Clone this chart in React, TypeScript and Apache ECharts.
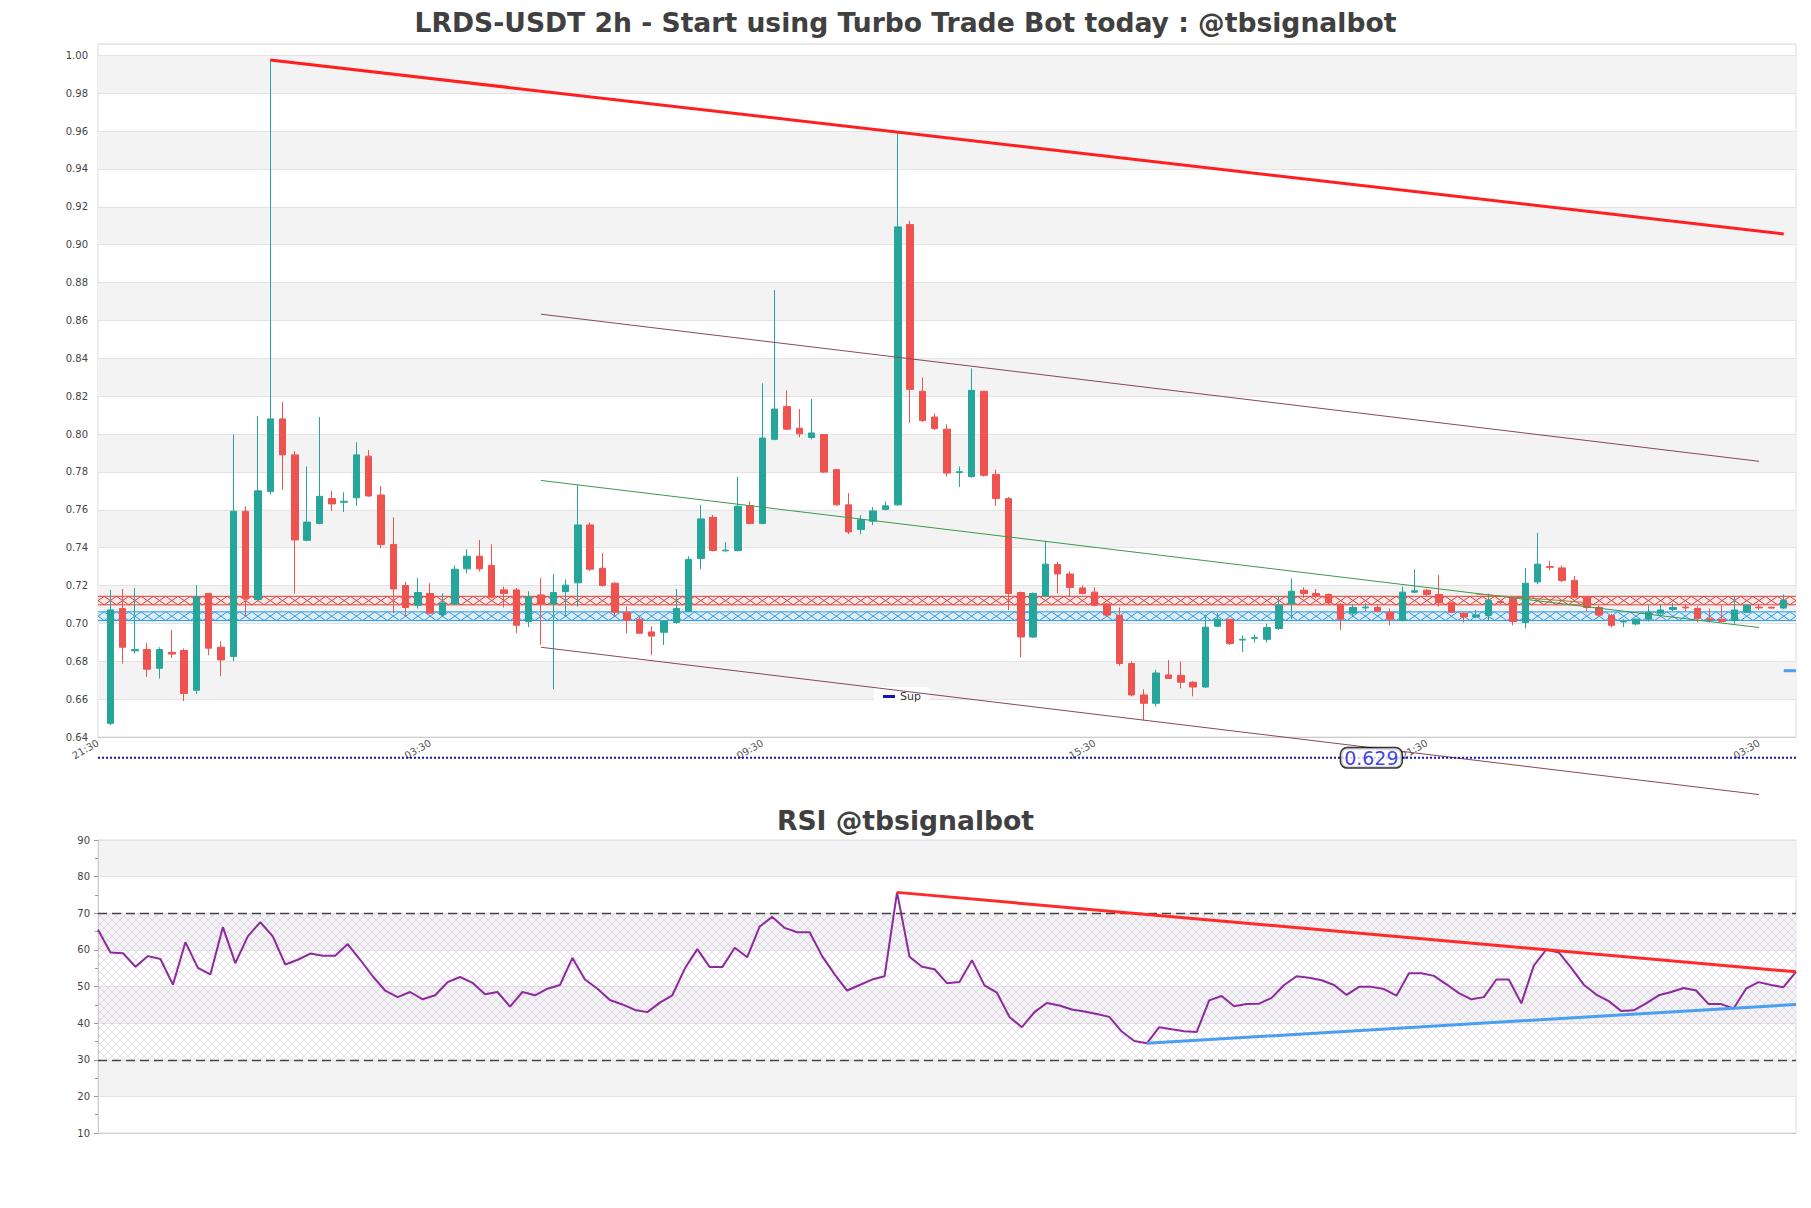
import React, { useEffect, useRef } from 'react';
import * as echarts from 'echarts';

// ---------- DATA ----------
const chartTitle = 'LRDS-USDT 2h - Start using Turbo Trade Bot today : @tbsignalbot';
const rsiTitle = 'RSI @tbsignalbot';

// time slots on the price axis (2h step), first slot 21:30; candles occupy slots 1..137
const slotCount = 139;
const firstSlotMinutes = 21 * 60 + 30;
const slotStepMinutes = 120;

const candleOpen = [
  0.6472, 0.7079, 0.6855, 0.6862, 0.6763, 0.6847, 0.6857, 0.6647, 0.7158, 0.6874,
  0.6825, 0.7592, 0.7126, 0.7696, 0.8080, 0.7890, 0.7439, 0.7528, 0.7659, 0.7640,
  0.7663, 0.7883, 0.7678, 0.7417, 0.7200, 0.7096, 0.7158, 0.7047, 0.7103, 0.7288,
  0.7355, 0.7306, 0.7177, 0.7177, 0.7010, 0.7150, 0.7103, 0.7168, 0.7214, 0.7520,
  0.7291, 0.7212, 0.7059, 0.7022, 0.6955, 0.6953, 0.7005, 0.7064, 0.7343, 0.7560,
  0.7383, 0.7385, 0.7621, 0.7528, 0.7972, 0.8145, 0.8031, 0.7982, 0.7997, 0.7812,
  0.7626, 0.7496, 0.7540, 0.7602, 0.7626, 0.9107, 0.8226, 0.8090, 0.8026, 0.7797,
  0.7775, 0.8226, 0.7787, 0.7659, 0.7163, 0.6928, 0.7145, 0.7311, 0.7261, 0.7187,
  0.7165, 0.7103, 0.7042, 0.6788, 0.6622, 0.6578, 0.6728, 0.6726, 0.6689, 0.6664,
  0.6985, 0.7022, 0.6912, 0.6921, 0.6916, 0.6973, 0.7103, 0.7175, 0.7158, 0.7153,
  0.7101, 0.7054, 0.7082, 0.7084, 0.7059, 0.7015, 0.7165, 0.7175, 0.7153, 0.7108,
  0.7054, 0.7034, 0.7042, 0.7115, 0.7133, 0.7005, 0.7219, 0.7300, 0.7293, 0.7227,
  0.7138, 0.7084, 0.7042, 0.7008, 0.6997, 0.7022, 0.7054, 0.7074, 0.7086, 0.7079,
  0.7024, 0.7022, 0.7015, 0.7059, 0.7086, 0.7085, 0.7081,
];
const candleClose = [
  0.7071, 0.6874, 0.6862, 0.6758, 0.6862, 0.6838, 0.6630, 0.7140, 0.6869, 0.6807,
  0.7592, 0.7133, 0.7700, 0.8080, 0.7890, 0.7441, 0.7535, 0.7671, 0.7631, 0.7645,
  0.7890, 0.7673, 0.7417, 0.7182, 0.7084, 0.7163, 0.7054, 0.7108, 0.7286, 0.7355,
  0.7288, 0.7138, 0.7158, 0.6990, 0.7140, 0.7103, 0.7163, 0.7202, 0.7520, 0.7286,
  0.7200, 0.7059, 0.7017, 0.6948, 0.6933, 0.7010, 0.7079, 0.7338, 0.7552, 0.7385,
  0.7387, 0.7619, 0.7528, 0.7979, 0.8132, 0.8026, 0.8001, 0.8006, 0.7799, 0.7626,
  0.7483, 0.7548, 0.7594, 0.7621, 0.9094, 0.8236, 0.8071, 0.8029, 0.7794, 0.7801,
  0.8231, 0.7782, 0.7659, 0.7158, 0.6928, 0.7158, 0.7313, 0.7261, 0.7190, 0.7158,
  0.7096, 0.7044, 0.6788, 0.6622, 0.6578, 0.6738, 0.6709, 0.6689, 0.6664, 0.6980,
  0.7022, 0.6894, 0.6916, 0.6926, 0.6978, 0.7096, 0.7170, 0.7158, 0.7145, 0.7108,
  0.7022, 0.7084, 0.7086, 0.7064, 0.7022, 0.7165, 0.7172, 0.7153, 0.7108, 0.7059,
  0.7034, 0.7044, 0.7121, 0.7110, 0.7010, 0.7212, 0.7313, 0.7296, 0.7227, 0.7138,
  0.7084, 0.7044, 0.6990, 0.7012, 0.7022, 0.7059, 0.7071, 0.7084, 0.7082, 0.7027,
  0.7020, 0.7010, 0.7071, 0.7096, 0.7082, 0.7081, 0.7121,
];
const candleLow = [
  0.6462, 0.6788, 0.6842, 0.6718, 0.6709, 0.6817, 0.6590, 0.6627, 0.6832, 0.6721,
  0.6800, 0.7039, 0.7121, 0.7681, 0.7705, 0.7158, 0.7434, 0.7523, 0.7594, 0.7589,
  0.7621, 0.7668, 0.7397, 0.7054, 0.7034, 0.7079, 0.7047, 0.7034, 0.7096, 0.7264,
  0.7274, 0.7133, 0.7084, 0.6948, 0.6980, 0.6886, 0.6652, 0.7034, 0.7089, 0.7276,
  0.7195, 0.7034, 0.6948, 0.6946, 0.6832, 0.6886, 0.6998, 0.7059, 0.7286, 0.7380,
  0.7380, 0.7380, 0.7523, 0.7523, 0.7967, 0.8021, 0.7982, 0.7972, 0.7794, 0.7621,
  0.7471, 0.7471, 0.7520, 0.7597, 0.7621, 0.8058, 0.8063, 0.8021, 0.7775, 0.7720,
  0.7770, 0.7775, 0.7621, 0.7071, 0.6820, 0.6923, 0.7138, 0.7158, 0.7145, 0.7153,
  0.7089, 0.7039, 0.6776, 0.6615, 0.6487, 0.6561, 0.6706, 0.6657, 0.6615, 0.6659,
  0.6980, 0.6886, 0.6849, 0.6899, 0.6899, 0.6965, 0.7022, 0.7133, 0.7133, 0.7096,
  0.6965, 0.7034, 0.7064, 0.7059, 0.6990, 0.7010, 0.7160, 0.7145, 0.7089, 0.7054,
  0.7005, 0.7027, 0.7015, 0.7100, 0.6990, 0.6973, 0.7207, 0.7281, 0.7219, 0.7133,
  0.7064, 0.7034, 0.6978, 0.6980, 0.6990, 0.7010, 0.7039, 0.7064, 0.7064, 0.7005,
  0.7005, 0.7005, 0.6998, 0.7054, 0.7071, 0.7079, 0.7076,
];
const candleHigh = [
  0.7177, 0.7182, 0.7187, 0.6896, 0.6874, 0.6965, 0.6867, 0.7202, 0.7160, 0.6906,
  0.7997, 0.7619, 0.8095, 0.9975, 0.8169, 0.7910, 0.7829, 0.8090, 0.7700, 0.7693,
  0.7957, 0.7915, 0.7725, 0.7560, 0.7219, 0.7239, 0.7212, 0.7158, 0.7306, 0.7392,
  0.7441, 0.7417, 0.7195, 0.7187, 0.7170, 0.7239, 0.7261, 0.7232, 0.7730, 0.7533,
  0.7372, 0.7219, 0.7089, 0.7034, 0.6985, 0.7015, 0.7182, 0.7355, 0.7626, 0.7572,
  0.7429, 0.7775, 0.7644, 0.8268, 0.8761, 0.8231, 0.8132, 0.8186, 0.8001, 0.7812,
  0.7688, 0.7572, 0.7614, 0.7644, 0.9600, 0.9127, 0.8298, 0.8108, 0.8051, 0.7829,
  0.8347, 0.8226, 0.7812, 0.7668, 0.7168, 0.7163, 0.7436, 0.7325, 0.7274, 0.7200,
  0.7190, 0.7108, 0.7084, 0.6800, 0.6652, 0.6755, 0.6807, 0.6798, 0.6696, 0.7047,
  0.7054, 0.7022, 0.6936, 0.6940, 0.6998, 0.7140, 0.7237, 0.7190, 0.7182, 0.7158,
  0.7108, 0.7103, 0.7108, 0.7096, 0.7079, 0.7195, 0.7286, 0.7182, 0.7256, 0.7113,
  0.7059, 0.7071, 0.7158, 0.7125, 0.7145, 0.7293, 0.7478, 0.7330, 0.7306, 0.7251,
  0.7145, 0.7096, 0.7051, 0.7022, 0.7027, 0.7096, 0.7103, 0.7108, 0.7103, 0.7089,
  0.7079, 0.7096, 0.7145, 0.7103, 0.7103, 0.7088, 0.7153,
];

const rsiValues = [
  65.5, 59.3, 59.1, 55.4, 58.3, 57.5, 50.5, 62.1, 55.1, 53.3,
  66.2, 56.4, 63.7, 67.6, 63.7, 56.0, 57.3, 59.0, 58.4, 58.4,
  61.6, 57.3, 52.8, 48.9, 47.1, 48.5, 46.5, 47.6, 51.2, 52.6,
  51.0, 47.9, 48.5, 44.5, 48.5, 47.6, 49.4, 50.4, 57.8, 51.9,
  49.4, 46.3, 45.1, 43.6, 43.0, 45.6, 47.6, 54.9, 60.2, 55.3,
  55.3, 60.6, 58.0, 66.4, 69.0, 66.0, 64.8, 64.8, 58.3, 53.3,
  48.9, 50.4, 51.9, 52.8, 75.7, 58.1, 55.4, 54.7, 50.9, 51.2,
  57.2, 50.3, 48.3, 41.7, 38.9, 43.0, 45.5, 44.8, 43.7, 43.2,
  42.5, 41.7, 37.7, 35.1, 34.5, 38.9, 38.3, 37.8, 37.6, 46.2,
  47.4, 44.6, 45.2, 45.3, 46.9, 50.4, 52.8, 52.4, 51.7, 50.4,
  47.7, 49.9, 49.9, 49.3, 47.5, 53.6, 53.6, 52.9, 50.6, 48.2,
  46.5, 47.1, 51.9, 51.9, 45.4, 55.7, 60.1, 59.3, 55.1, 50.5,
  47.8, 46.0, 43.3, 43.5, 45.4, 47.6, 48.5, 49.6, 48.9, 45.2,
  45.2, 44.0, 49.4, 51.2, 50.4, 49.8, 54.0,
];

// price y-axis
const priceMin = 0.64;
const priceMax = 1.006;
const priceStep = 0.02;

// trend lines on the price chart: [slotIndex, price]
const resistanceLine = [[14, 0.9975], [137, 0.9057]];
const channelUpper = [[36, 0.8633], [135, 0.7856]];
const channelLower = [[36, 0.6874], [135, 0.6096]];
const channelMid = [[36, 0.7755], [135, 0.6978]];
const shortOliveLine = [[112, 0.7155], [121, 0.7110]];
const rightBlueStub = [[137, 0.675], [138, 0.675]];

// horizontal zones [bottom, top]
const resistanceZone = [0.7098, 0.7143];
const supportZone = [0.7015, 0.7061];

// support level
const supLevel = 0.629;
const supLabelSlot = 103;

// RSI
const rsiMin = 10;
const rsiMax = 90;
const rsiOverbought = 70;
const rsiOversold = 30;
const rsiResistance = [[64, 75.7], [136, 54.0]];
const rsiSupport = [[84, 34.5], [136, 45.1]];

// ---------- helpers ----------
const pad2 = (n: number) => (n < 10 ? '0' + n : '' + n);
const slotCategories = Array.from({ length: slotCount }, (_, i) => {
  const total = firstSlotMinutes + i * slotStepMinutes;
  const day = Math.floor(total / 1440);
  const m = total % 1440;
  return `${day} ${pad2(Math.floor(m / 60))}:${pad2(m % 60)}`;
});
const rsiCategories = rsiValues.map((_, i) => String(i));

const FONT = 'DejaVu Sans';
const UP = '#26a69a';
const DOWN = '#ef5350';

function makeHatch(): any {
  const c = document.createElement('canvas');
  c.width = 8;
  c.height = 8;
  const ctx = c.getContext('2d')!;
  ctx.strokeStyle = 'rgba(175,150,200,0.45)';
  ctx.lineWidth = 0.7;
  ctx.beginPath();
  ctx.moveTo(0, 0);
  ctx.lineTo(8, 8);
  ctx.moveTo(8, 0);
  ctx.lineTo(0, 8);
  ctx.stroke();
  return { image: c.toDataURL(), repeat: 'repeat', imageWidth: 8, imageHeight: 8 };
}

function zoneSeries(name: string, zone: number[], stroke: string, fill: string) {
  return {
    name,
    type: 'custom',
    xAxisIndex: 0,
    yAxisIndex: 0,
    silent: true,
    clip: true,
    z: 1,
    data: slotCategories.map((_, i) => [i]),
    renderItem: (params: any, api: any) => {
      const idx = api.value(0);
      const w = api.size([1, 0])[0];
      const pTop = api.coord([idx, zone[1]]);
      const pBot = api.coord([idx, zone[0]]);
      const x0 = pTop[0] - w / 2;
      const x1 = pTop[0] + w / 2;
      const yT = pTop[1];
      const yB = pBot[1];
      const ls = { stroke, lineWidth: 1, fill: 'none' };
      return {
        type: 'group',
        children: [
          { type: 'rect', shape: { x: x0, y: yT, width: w, height: yB - yT }, style: { fill } },
          { type: 'line', shape: { x1: x0, y1: yT, x2: x1, y2: yB }, style: ls },
          { type: 'line', shape: { x1: x0, y1: yB, x2: x1, y2: yT }, style: ls },
          { type: 'line', shape: { x1: x0, y1: yT, x2: x1, y2: yT }, style: ls },
          { type: 'line', shape: { x1: x0, y1: yB, x2: x1, y2: yB }, style: ls },
        ],
      };
    },
  };
}

function lineSeries(name: string, data: number[][], color: string, width: number, xi: number, yi: number, z = 4) {
  return {
    name,
    type: 'line',
    xAxisIndex: xi,
    yAxisIndex: yi,
    data,
    showSymbol: false,
    symbol: 'none',
    clip: false,
    silent: true,
    z,
    lineStyle: { color, width },
    itemStyle: { color },
  };
}

function buildOption(): any {
  const candleData = candleOpen.map((o, i) => [i + 1, o, candleClose[i], candleLow[i], candleHigh[i]]);
  const hatch = makeHatch();
  const titleStyle = { fontSize: 26.6, fontWeight: 'bold', color: '#404040', fontFamily: FONT };

  return {
    animation: false,
    backgroundColor: '#ffffff',
    textStyle: { fontFamily: FONT },
    title: [
      { text: chartTitle, left: 'center', top: 9, padding: 0, textStyle: titleStyle },
      { text: rsiTitle, left: 'center', top: 807, padding: 0, textStyle: titleStyle },
    ],
    legend: {
      data: [{ name: 'Sup', icon: 'rect' }],
      left: 874,
      top: 687,
      itemWidth: 12,
      itemHeight: 3,
      padding: [4, 9, 4, 9],
      backgroundColor: 'rgba(255,255,255,0.95)',
      borderRadius: 3,
      textStyle: { fontSize: 11, color: '#333', fontFamily: FONT },
    },
    grid: [
      { left: 98, right: 15, top: 44, bottom: 471, show: true, borderColor: '#dddddd', borderWidth: 1, backgroundColor: 'transparent' },
      { left: 98, right: 15, top: 840, bottom: 75, show: true, borderColor: '#dddddd', borderWidth: 1, backgroundColor: 'transparent' },
    ],
    xAxis: [
      {
        type: 'category',
        gridIndex: 0,
        data: slotCategories,
        boundaryGap: false,
        axisLine: { show: true, lineStyle: { color: '#cccccc' } },
        axisTick: { show: false },
        splitLine: { show: false },
        axisLabel: {
          interval: 26,
          rotate: 30,
          margin: 5,
          fontSize: 10,
          color: '#555',
          fontFamily: FONT,
          formatter: (v: string) => v.split(' ')[1],
        },
      },
      {
        type: 'category',
        gridIndex: 1,
        data: rsiCategories,
        boundaryGap: false,
        axisLine: { show: true, lineStyle: { color: '#cccccc' } },
        axisTick: { show: false },
        axisLabel: { show: false },
        splitLine: { show: false },
      },
    ],
    yAxis: [
      {
        type: 'value',
        gridIndex: 0,
        min: priceMin,
        max: priceMax,
        interval: priceStep,
        axisLine: { show: false },
        axisTick: { show: false },
        axisLabel: {
          fontSize: 10,
          color: '#444',
          fontFamily: FONT,
          margin: 10,
          formatter: (v: number) => (v > 1.001 ? '' : v.toFixed(2)),
        },
        splitLine: { show: true, lineStyle: { color: '#e3e3e3', width: 1 } },
        splitArea: { show: true, areaStyle: { color: ['rgba(255,255,255,0)', '#f3f3f3'] } },
      },
      {
        type: 'value',
        gridIndex: 1,
        min: rsiMin,
        max: rsiMax,
        interval: 10,
        axisLine: { show: true, lineStyle: { color: '#cccccc' } },
        axisTick: { show: true, length: 4, lineStyle: { color: '#999' } },
        minorTick: { show: true, splitNumber: 2, length: 3, lineStyle: { color: '#999' } },
        axisLabel: { fontSize: 10, color: '#444', fontFamily: FONT, margin: 8 },
        splitLine: { show: true, lineStyle: { color: '#e3e3e3', width: 1 } },
        splitArea: { show: true, areaStyle: { color: ['rgba(255,255,255,0)', '#f3f3f3'] } },
      },
    ],
    series: [
      zoneSeries('ResZone', resistanceZone, '#e0403a', 'rgba(255,205,205,0.35)'),
      zoneSeries('SupZone', supportZone, '#2a9de8', 'rgba(190,225,255,0.35)'),
      {
        name: 'Price',
        type: 'candlestick',
        xAxisIndex: 0,
        yAxisIndex: 0,
        data: candleData,
        encode: { x: 0, y: [1, 2, 3, 4] },
        barWidth: 7,
        z: 3,
        itemStyle: { color: UP, color0: DOWN, borderColor: UP, borderColor0: DOWN, borderWidth: 1 },
      },
      lineSeries('Resistance', resistanceLine, '#ff1f1f', 3, 0, 0, 5),
      lineSeries('ChannelUpper', channelUpper, '#87485a', 1, 0, 0),
      lineSeries('ChannelLower', channelLower, '#87485a', 1, 0, 0),
      lineSeries('ChannelMid', channelMid, '#3a9a4e', 1, 0, 0),
      lineSeries('ShortTrend', shortOliveLine, '#a08040', 1, 0, 0),
      lineSeries('BlueStub', rightBlueStub, '#4a9ff0', 3, 0, 0),
      {
        name: 'Sup',
        type: 'line',
        xAxisIndex: 0,
        yAxisIndex: 0,
        data: slotCategories.map(() => supLevel),
        showSymbol: false,
        symbol: 'none',
        clip: false,
        silent: true,
        z: 4,
        color: '#1515b5',
        lineStyle: { color: '#1515b5', width: 2, type: 'dotted' },
        itemStyle: { color: '#1515b5' },
      },
      {
        name: 'SupLabel',
        type: 'scatter',
        xAxisIndex: 0,
        yAxisIndex: 0,
        data: [[supLabelSlot, supLevel]],
        symbolSize: 0,
        clip: false,
        silent: true,
        z: 6,
        label: {
          show: true,
          position: 'inside',
          offset: [6, 0],
          formatter: () => supLevel.toFixed(3),
          fontSize: 19,
          color: '#1010d8',
          fontFamily: FONT,
          backgroundColor: '#ffffff',
          borderColor: '#000000',
          borderWidth: 1.5,
          borderRadius: 6,
          padding: [0, 3, 0, 3],
        },
      },
      {
        name: 'RSI',
        type: 'line',
        xAxisIndex: 1,
        yAxisIndex: 1,
        data: rsiValues,
        showSymbol: false,
        symbol: 'none',
        silent: true,
        z: 4,
        lineStyle: { color: '#8e2a9e', width: 2 },
        itemStyle: { color: '#8e2a9e' },
        markArea: {
          silent: true,
          itemStyle: { color: hatch },
          data: [[{ yAxis: rsiOversold }, { yAxis: rsiOverbought }]],
        },
        markLine: {
          silent: true,
          symbol: 'none',
          label: { show: false },
          lineStyle: { color: '#444', type: [9, 5], width: 1.3 },
          data: [{ yAxis: rsiOverbought }, { yAxis: rsiOversold }],
        },
      },
      lineSeries('RsiRes', rsiResistance, '#ff2a2a', 3, 1, 1, 5),
      lineSeries('RsiSup', rsiSupport, '#4a9ff0', 3, 1, 1, 5),
    ],
  };
}

export default function App() {
  const ref = useRef<HTMLDivElement>(null);
  useEffect(() => {
    if (!ref.current) return;
    const chart = echarts.init(ref.current, null, { renderer: 'svg' });
    chart.setOption(buildOption());
    return () => chart.dispose();
  }, []);
  return (
    <div
      ref={ref}
      style={{ position: 'absolute', left: 0, top: 0, width: 1811, height: 1208, background: '#fff' }}
    />
  );
}
